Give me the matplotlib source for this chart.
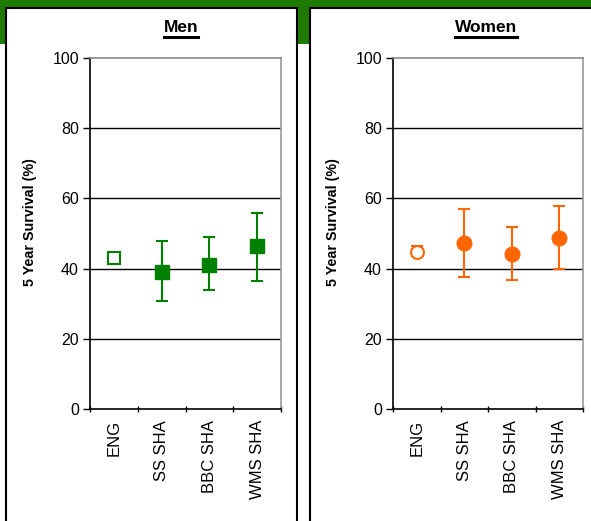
import matplotlib
matplotlib.use("Agg")
import matplotlib.pyplot as plt
from matplotlib.patches import Rectangle
from matplotlib.lines import Line2D

plt.rcParams['font.family'] = ['Liberation Sans', 'DejaVu Sans']

categories = ["ENG", "SS SHA", "BBC SHA", "WMS SHA"]
men_vals = [42.9, 38.9, 41.1, 46.5]
men_low = [42.9, 30.8, 33.9, 36.6]
men_high = [42.9, 47.9, 48.9, 55.7]
women_vals = [44.6, 47.4, 44.2, 48.6]
women_low = [43.6, 37.7, 36.8, 40.0]
women_high = [46.3, 56.9, 51.9, 57.9]
yticks = [0, 20, 40, 60, 80, 100]

W, H = 591, 521
fig = plt.figure(figsize=(W / 100, H / 100), dpi=100)
GREEN = '#1E7B02'

def fx(px):
    return px / W

def fy(py):
    return 1 - py / H

# green header band
fig.patches.append(Rectangle((0, fy(44)), 1, 44 / H, transform=fig.transFigure,
                             facecolor=GREEN, edgecolor='none', zorder=0))
# panels
for x0, x1 in [(5.5, 297), (310, 600)]:
    fig.patches.append(Rectangle((fx(x0), -0.05), fx(x1 - x0), fy(7.5) + 0.05,
                                 transform=fig.transFigure, facecolor='white',
                                 edgecolor='black', lw=1.5, zorder=1))

def make_panel(left_px, width_px, vals, low, high, color, marker, title, title_x, ylab_x):
    ax = fig.add_axes([fx(left_px), fy(409), fx(width_px), 351 / H])
    ax.set_zorder(3)
    ax.patch.set_alpha(0)
    x = list(range(len(categories)))
    for i in x:
        ax.errorbar([i], [vals[i]], yerr=[[vals[i] - low[i]], [high[i] - vals[i]]],
                    fmt='none', ecolor=color, elinewidth=1.5, capsize=4.6,
                    capthick=1.5, zorder=3)
        if i == 0:
            ax.plot([i], [vals[i]], marker=marker, ms=9.3, mfc='white', mec=color,
                    mew=1.5, ls='none', zorder=4)
        else:
            ax.plot([i], [vals[i]], marker=marker, ms=10.5, mfc=color, mec=color,
                    ls='none', zorder=4)
    ax.set_xlim(-0.5, 3.5)
    ax.set_ylim(0, 100)
    ax.set_yticks(yticks)
    ax.set_yticklabels([str(v) for v in yticks], fontsize=11.5)
    for v in yticks[1:-1]:
        ax.axhline(v, color='black', lw=1, zorder=1)
    ax.set_xticks(x)
    ax.set_xticklabels(categories, rotation=90, fontsize=12)
    ax.set_xticks([-0.5, 0.5, 1.5, 2.5, 3.5], minor=True)
    ax.tick_params(axis='x', which='major', length=0, pad=8)
    ax.tick_params(axis='x', which='minor', length=5, width=1, direction='inout')
    ax.tick_params(axis='y', length=5, width=1, direction='out', pad=3)
    ax.spines['left'].set_color('black')
    ax.spines['bottom'].set_color('black')
    ax.spines['top'].set_color('#888888')
    ax.spines['right'].set_color('#999999')
    for s in ax.spines.values():
        s.set_linewidth(1.2)
    fig.text(fx(ylab_x), fy(222), "5 Year Survival (%)", rotation=90, fontsize=10.3,
             fontweight='bold', ha='center', va='center', zorder=5)
    t = fig.text(fx(title_x), fy(28), title, fontsize=12.5, fontweight='bold',
                 ha='center', va='center', zorder=5)
    return ax, t

ax1, t1 = make_panel(90, 191, men_vals, men_low, men_high, '#008000', 's', 'Men', 181, 30)
ax2, t2 = make_panel(393, 190, women_vals, women_low, women_high, '#FF6600', 'o', 'Women', 486, 333)

fig.canvas.draw()
r = fig.canvas.get_renderer()
for t in (t1, t2):
    bb = t.get_window_extent(r).transformed(fig.transFigure.inverted())
    fig.lines.append(Line2D([bb.x0, bb.x1], [bb.y0 - 0.002, bb.y0 - 0.002],
                            transform=fig.transFigure, color='black', lw=2.2, zorder=5))

fig.savefig('out.png', dpi=100)
